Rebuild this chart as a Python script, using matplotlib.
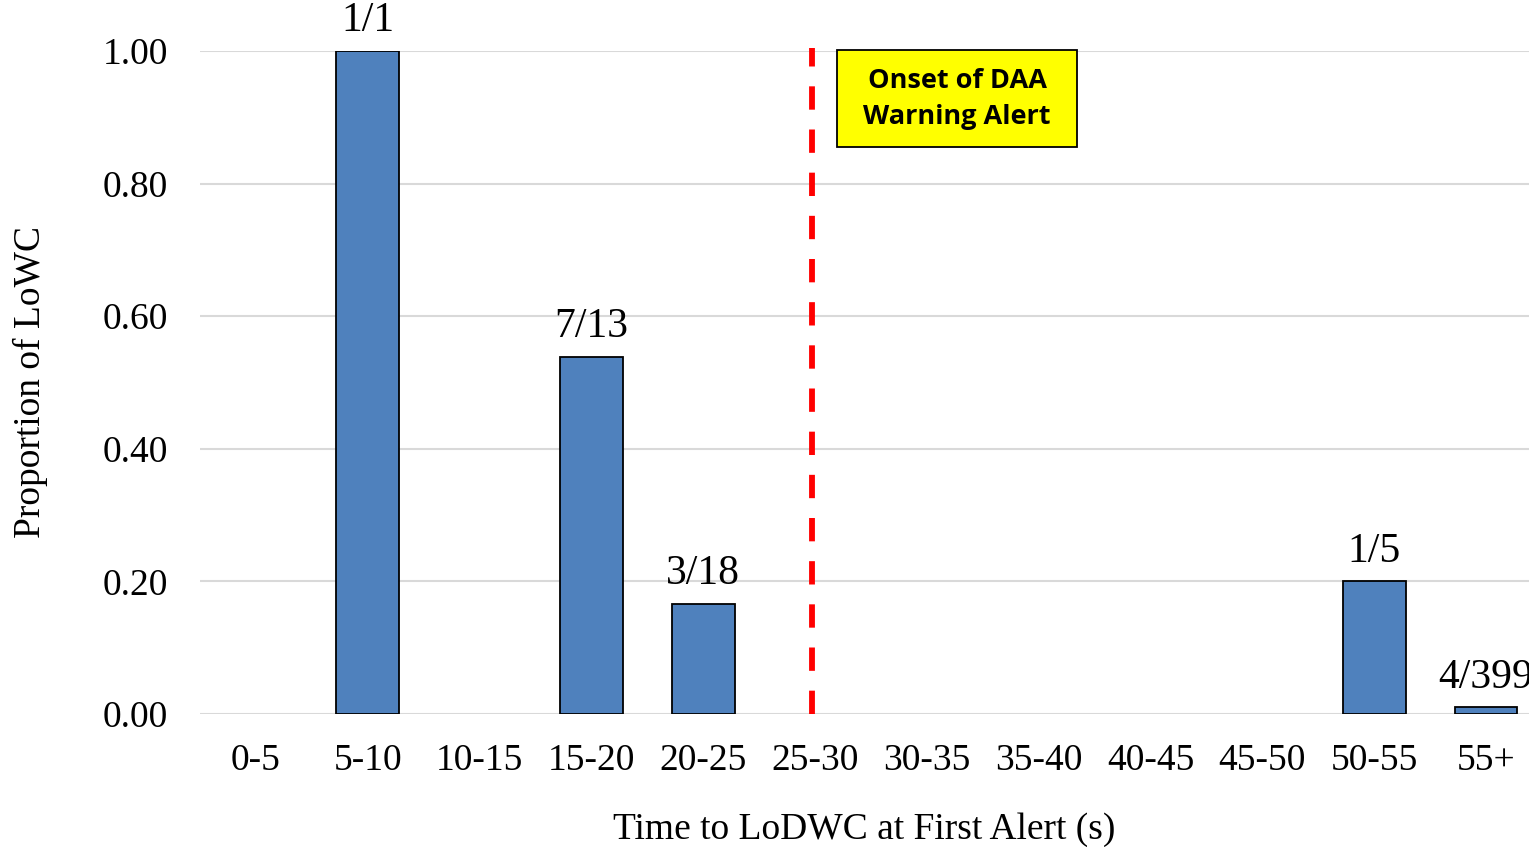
import matplotlib
matplotlib.use("Agg")
import matplotlib.pyplot as plt
from matplotlib.patches import Rectangle

categories = ["0-5", "5-10", "10-15", "15-20", "20-25", "25-30", "30-35",
              "35-40", "40-45", "45-50", "50-55", "55+"]
proportions = [0, 1.0, 0, 7/13, 3/18, 0, 0, 0, 0, 0, 0.2, 4/399]
bar_labels = ["", "1/1", "", "7/13", "3/18", "", "", "", "", "", "1/5", "4/399"]
yticks = [0.0, 0.2, 0.4, 0.6, 0.8, 1.0]
onset_category = "25-30"

serif = ["Liberation Serif", "DejaVu Serif"]
plt.rcParams["font.family"] = serif

W, H = 1529, 847
fig = plt.figure(figsize=(W/100, H/100), dpi=100)
ax = fig.add_axes([200/W, (H-714)/H, 1342/W, 663/H])

x = list(range(len(categories)))
ax.bar(x, proportions, width=0.56, color="#4f81bd", edgecolor="black",
       linewidth=[1.3 if v > 0 else 0 for v in proportions], zorder=3)
for xi, v, lab in zip(x, proportions, bar_labels):
    if lab:
        ax.text(xi, v + 0.045, lab, ha="center", va="center", fontsize=30,
                family=serif, clip_on=False, zorder=4)

ax.set_xlim(-0.5, len(categories) - 0.5)
ax.set_ylim(0, 1.0)
ax.set_yticks(yticks)
ax.set_yticklabels([f"{t:.2f}" for t in yticks], fontsize=27)
ax.set_xticks(x)
ax.set_xticklabels(categories, fontsize=27)
ax.tick_params(axis="both", length=0)
ax.tick_params(axis="y", pad=23)
ax.tick_params(axis="x", pad=21)
for s in ax.spines.values():
    s.set_visible(False)
ax.yaxis.grid(True, color="#d9d9d9", linewidth=1.5, zorder=0)
ax.set_axisbelow(True)

xl = categories.index(onset_category) - 0.03
ax.plot([xl, xl], [0, 1.005], color="#ff0000", linewidth=4.2,
        dashes=(4.0, 3.4), zorder=5, clip_on=False,
        dash_capstyle="butt")

fig.text(864/W, 1 - 830/H, "Time to LoDWC at First Alert (s)", fontsize=27,
         ha="center", va="center")
fig.text(30/W, 1 - 382/H, "Proportion of LoWC", fontsize=27,
         ha="center", va="center", rotation=90)

fig.patches.append(Rectangle((837/W, 1 - 147/H), 240/W, 97/H,
                             transform=fig.transFigure, facecolor="#ffff00",
                             edgecolor="black", linewidth=1.3, zorder=6))
fig.text((837+1077)/2/W, 1 - 99/H, "Onset of DAA\nWarning Alert",
         ha="center", va="center", fontsize=19.5, fontweight="bold",
         family=["Open Sans", "DejaVu Sans"], linespacing=1.45, zorder=7)

fig.savefig("out.png", dpi=100)
